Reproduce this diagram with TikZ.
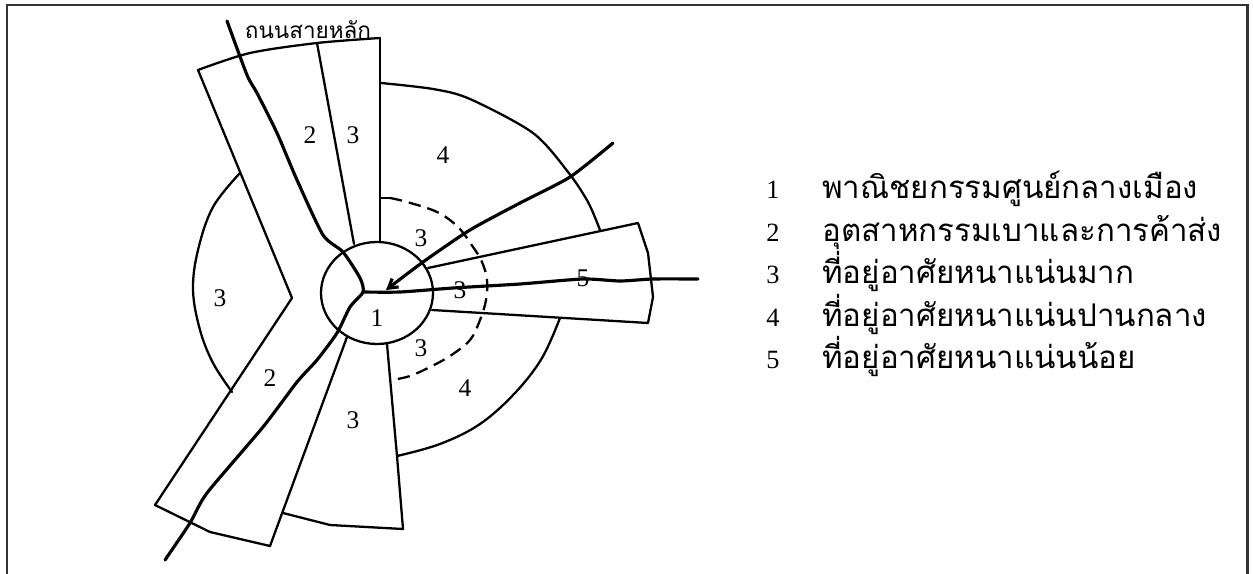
\documentclass[tikz,border=0pt]{standalone}
\usepackage{fontspec}
\setmainfont{Liberation Serif}
\newfontfamily\thaifont[Script=Thai]{Loma}
\usetikzlibrary{arrows.meta}
\begin{document}
\begin{tikzpicture}[x=0.02cm,y=-0.02cm,
  edge/.style={line width=1.3pt, line join=round, line cap=round},
  road/.style={line width=1.8pt, line cap=round, line join=round},
  frameline/.style={line width=1.7pt, draw=black!80},
  dashedarc/.style={line width=1.3pt, dash pattern=on 7pt off 4pt},
  num/.style={font=\fontsize{14.5}{17}\selectfont, inner sep=0pt},
  thaitxt/.style={font=\thaifont\fontsize{17.8}{20}\selectfont, inner sep=0pt, anchor=base west},
  legnum/.style={font=\fontsize{15}{17}\selectfont, inner sep=0pt, anchor=base},
]
\useasboundingbox (0,0) rectangle (1253,574);
% frame
\draw[frameline] (7,574) -- (7,5) -- (1247,5) -- (1247,574);

% key coordinates
\coordinate (C) at (377,293);
\coordinate (tl) at (198,70);
\coordinate (tm) at (317,43);
\coordinate (tr) at (380,38);
\coordinate (V) at (292,298);
\coordinate (bl) at (155,505);
\coordinate (bm) at (270,546);
\coordinate (bk) at (283,513);
\coordinate (br) at (403,529);

% central circle
\draw[edge] (C) ellipse [x radius=56, y radius=51];

% upper fan
\draw[edge] plot[smooth, tension=0.5] coordinates {(198,70) (250,53) (317,43) (380,38)};
\draw[edge] (tr) -- (380,242);
\draw[edge] (tm) -- (354,244);
\draw[edge] (tl) -- (V);

% left sector
\draw[edge] plot[smooth, tension=0.6] coordinates {(240,173) (213,207) (198,250) (193,290) (200,330) (213,363) (232,392)};

% lower fan
\draw[edge] (V) -- (bl);
\draw[edge] (bl) -- (210,532) -- (bm);
\draw[edge] (347,337) -- (bm);
\draw[edge] (bk) -- (330,525) -- (br);
\draw[edge] (387,344) -- (397,456) -- (br);

% lower right sector 4
\draw[edge] plot[smooth, tension=0.6] coordinates {(397,456) (440,444) (480,424) (515,393) (542,358) (560,318)};

% upper right sector 4
\draw[edge] plot[smooth, tension=0.5] coordinates {(381,83) (433,89) (470,99) (533,133) (568,172) (588,202) (600,230)};

% dashed boundary
\draw[edge] (380,198) -- (390,198);
\draw[dashedarc] plot[smooth, tension=0.6] coordinates {(390,198) (407,202) (437,212) (458,227) (473,247) (482,262) (487,280) (486,300) (480,320) (470,340) (450,356) (430,367) (410,376) (392,380)};

% band 5
\draw[edge] (428,268) -- (638,223) -- (648,253) -- (653,297) -- (648,323) -- (432,310);

% roads
\draw[road] plot[smooth, tension=0.4] coordinates {(227,21) (247,75) (257,93) (277,133) (297,180) (323,235) (343,252) (360,278) (363,292) (350,307) (337,333) (317,360) (297,382) (263,427) (207,493) (190,523) (165,560)};
\draw[road] plot[smooth, tension=0.4] coordinates {(363,292) (400,292) (453,288) (520,284) (583,279) (620,281) (653,279) (698,279)};
\draw[road, -{Straight Barb[length=5pt, width=6pt]}] plot[smooth, tension=0.4] coordinates {(613,143) (570,177) (520,203) (470,230) (423,262) (386,290)};

% road label
\node[font=\thaifont\fontsize{12.8}{15}\selectfont, inner sep=0pt] (roadlbl) at (308,30) {ถนนสายหลัก};

% zone numbers
\node[num] (z2a) at (310,135) {2};
\node[num] (z3a) at (353,135) {3};
\node[num] (z4a) at (443,155) {4};
\node[num] (z3l) at (220,298) {3};
\node[num] (z3t) at (421,238) {3};
\node[num] (z3r) at (460,290) {3};
\node[num] (z1) at (377,318) {1};
\node[num] (z3b) at (421,348) {3};
\node[num] (z4b) at (465,388) {4};
\node[num] (z2b) at (270,378) {2};
\node[num] (z3c) at (353,420) {3};
\node[num] (z5) at (583,278) {5};

% legend
\node[legnum] (n1) at (773,198) {1};
\node[legnum] (n2) at (773,241) {2};
\node[legnum] (n3) at (773,283) {3};
\node[legnum] (n4) at (773,326) {4};
\node[legnum] (n5) at (773,368) {5};
\node[thaitxt] (l1) at (822,198) {พาณิชยกรรมศูนย์กลางเมือง};
\node[thaitxt] (l2) at (822,241) {อุตสาหกรรมเบาและการค้าส่ง};
\node[thaitxt] (l3) at (822,283) {ที่อยู่อาศัยหนาแน่นมาก};
\node[thaitxt] (l4) at (822,326) {ที่อยู่อาศัยหนาแน่นปานกลาง};
\node[thaitxt] (l5) at (822,368) {ที่อยู่อาศัยหนาแน่นน้อย};
\end{tikzpicture}
\end{document}
